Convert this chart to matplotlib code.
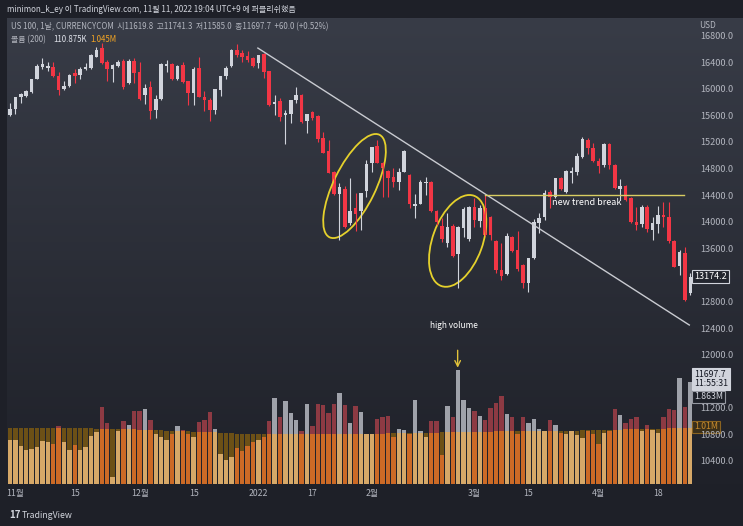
import numpy as np
import matplotlib
matplotlib.use("Agg")
import matplotlib.pyplot as plt
import matplotlib.transforms as mtransforms
from matplotlib.patches import Rectangle, Ellipse
from matplotlib.colors import LinearSegmentedColormap

plt.rcParams['font.family'] = ['Noto Sans CJK KR', 'DejaVu Sans']

# daily candles, 29 Oct 2021 .. 26 Apr 2022 (US 100 CFD)
opens = [
    15600, 15690, 15870, 15890, 15950, 16140, 16320, 16310, 16330, 16190,
    15990, 16040, 16230, 16200, 16290, 16310, 16480, 16610, 16400, 16300,
    16340, 16420, 16090, 16420, 16250, 15900, 16020, 15680, 15840, 16340,
    16370, 16140, 16350, 16110, 15930, 16310, 15870, 15830, 15680, 15980,
    16190, 16340, 16580, 16540, 16490, 16460, 16390, 16520, 16260, 15770,
    15810, 15600, 15620, 15830, 15900, 15510, 15650, 15590, 15260, 15060,
    14740, 14420, 14490, 13980, 14200, 14160, 14460, 14880, 15140, 14880,
    14760, 14670, 14600, 14750, 14700, 14240, 14270, 14580, 14600, 14160,
    13930, 13680, 13930, 13510, 13900, 13740, 14220, 14010, 14200, 14070,
    13710, 13270, 13210, 13770, 13570, 13350, 13080, 13450, 13980, 14070,
    14440, 14370, 14660, 14440, 14730, 14750, 14970, 15230, 15110, 14910,
    14850, 15170, 14850, 14490, 14540, 14360, 13990, 13960, 14220, 13870,
    13960, 14100, 14070, 13710, 13330, 13530, 12930]
highs = [
    15780, 15880, 15930, 15980, 16150, 16370, 16460, 16400, 16400, 16250,
    16110, 16220, 16290, 16320, 16380, 16520, 16620, 16690, 16430, 16370,
    16430, 16440, 16440, 16460, 16400, 16070, 16110, 15900, 16380, 16430,
    16390, 16350, 16400, 16120, 16320, 16480, 15960, 15860, 16000, 16190,
    16340, 16590, 16670, 16580, 16560, 16470, 16510, 16530, 16270, 15900,
    15860, 15680, 15830, 16020, 15920, 15620, 15670, 15600, 15350, 15230,
    14760, 14580, 14540, 14660, 14430, 14430, 14930, 15120, 15230, 14900,
    14770, 14810, 14810, 15070, 14710, 14420, 14630, 14670, 14610, 14170,
    14050, 14130, 13970, 13930, 14220, 14230, 14360, 14250, 14400, 14080,
    13720, 13680, 13830, 13790, 13860, 13360, 13460, 14040, 14130, 14480,
    14480, 14660, 14670, 14780, 14820, 15030, 15270, 15260, 15180, 14960,
    15180, 15180, 14860, 14640, 14550, 14370, 14220, 14250, 14250, 14070,
    14230, 14300, 14290, 13720, 13580, 13620, 13230]
lows = [
    15590, 15620, 15780, 15870, 15940, 16140, 16290, 16260, 16170, 15900,
    15980, 16030, 16080, 16140, 16280, 16300, 16470, 16370, 16110, 16100,
    16330, 16000, 16070, 16090, 15830, 15770, 15540, 15560, 15830, 16250,
    16130, 16130, 16090, 15750, 15750, 15870, 15660, 15510, 15620, 15890,
    16140, 16330, 16470, 16400, 16400, 16320, 16310, 16160, 15740, 15600,
    15510, 15170, 15480, 15780, 15490, 15330, 15530, 15200, 15030, 14730,
    14400, 13720, 13900, 13950, 13860, 13870, 14370, 14750, 14880, 14370,
    14370, 14520, 14480, 14740, 14210, 14060, 14260, 14400, 14140, 13950,
    13690, 13620, 13470, 13000, 13770, 13710, 13920, 13920, 13790, 13720,
    13230, 13120, 13200, 13540, 13260, 13000, 12940, 13440, 13830, 14020,
    14200, 14360, 14470, 14430, 14580, 14700, 14960, 15020, 14900, 14730,
    14820, 14790, 14490, 14330, 14310, 13980, 13870, 13920, 13840, 13720,
    13830, 13920, 13680, 13310, 13200, 12800, 12900]
closes = [
    15690, 15870, 15920, 15960, 16140, 16340, 16370, 16340, 16190, 15980,
    16040, 16200, 16190, 16290, 16320, 16500, 16580, 16390, 16300, 16360,
    16400, 16030, 16410, 16240, 15840, 16010, 15660, 15840, 16370, 16370,
    16150, 16340, 16100, 15930, 16290, 15870, 15830, 15680, 15990, 16190,
    16310, 16580, 16510, 16480, 16430, 16340, 16510, 16250, 15750, 15800,
    15570, 15630, 15830, 15900, 15500, 15620, 15560, 15240, 15030, 14730,
    14420, 14520, 13920, 14160, 14110, 14430, 14870, 15120, 14880, 14810,
    14660, 14600, 14750, 15060, 14260, 14270, 14600, 14600, 14160, 13990,
    13740, 13920, 13480, 13920, 14190, 14220, 14020, 14200, 13800, 13800,
    13270, 13180, 13780, 13560, 13290, 13080, 13450, 13990, 14050, 14430,
    14370, 14650, 14490, 14760, 14760, 14990, 15240, 15110, 14910, 14840,
    15170, 14850, 14510, 14540, 14330, 13990, 13950, 14220, 13890, 13980,
    14100, 14070, 13710, 13320, 13540, 12820, 13174.2]

# volume and its 200-period average, in millions
volumes = [
    0.79, 0.79, 0.69, 0.61, 0.63, 0.67, 0.77, 0.76, 0.72, 1.05,
    0.76, 0.62, 0.70, 0.61, 0.67, 0.86, 0.93, 1.39, 1.10, 0.13,
    0.95, 1.13, 1.07, 1.31, 1.31, 1.35, 1.15, 0.90, 0.85, 0.80,
    0.90, 1.05, 0.98, 0.90, 0.85, 1.11, 1.16, 1.29, 0.99, 0.55,
    0.43, 0.48, 0.65, 0.60, 0.68, 0.75, 0.80, 0.85, 1.14, 1.55,
    1.20, 1.50, 1.28, 1.16, 0.95, 1.44, 1.05, 1.44, 1.43, 1.28,
    1.44, 1.64, 1.43, 1.10, 1.41, 1.30, 0.90, 0.90, 1.18, 1.20,
    1.22, 0.85, 1.00, 0.98, 0.90, 1.52, 0.95, 0.85, 1.14, 1.14,
    0.52, 1.41, 1.21, 2.05, 1.52, 1.37, 1.31, 1.23, 1.16, 1.37,
    1.46, 1.59, 1.26, 1.21, 0.90, 1.21, 1.10, 1.18, 1.00, 0.95,
    1.16, 1.07, 0.92, 0.90, 0.95, 0.88, 0.83, 0.95, 0.90, 0.72,
    0.92, 0.95, 1.35, 1.25, 1.10, 1.18, 1.21, 0.95, 1.07, 0.97,
    0.92, 1.20, 1.35, 1.33, 1.91, 1.39, 1.84]
vol_ma = [
    1.01, 1.01, 1.01, 1.01, 1.01, 1.01, 1.01, 1.01, 1.01, 1.01,
    1.01, 1.01, 1.01, 1.01, 1.01, 1.01, 1.00, 1.00, 1.00, 1.00,
    1.00, 1.00, 0.99, 0.99, 0.98, 0.98, 0.98, 0.97, 0.97, 0.96,
    0.96, 0.96, 0.95, 0.95, 0.94, 0.94, 0.94, 0.93, 0.93, 0.92,
    0.92, 0.92, 0.91, 0.91, 0.91, 0.91, 0.91, 0.91, 0.91, 0.91,
    0.91, 0.91, 0.91, 0.91, 0.91, 0.91, 0.91, 0.91, 0.91, 0.91,
    0.91, 0.91, 0.91, 0.91, 0.91, 0.91, 0.91, 0.91, 0.91, 0.91,
    0.92, 0.92, 0.92, 0.92, 0.92, 0.92, 0.92, 0.92, 0.92, 0.92,
    0.93, 0.93, 0.93, 0.93, 0.93, 0.94, 0.94, 0.94, 0.94, 0.94,
    0.95, 0.95, 0.95, 0.95, 0.95, 0.95, 0.95, 0.95, 0.95, 0.95,
    0.96, 0.96, 0.96, 0.96, 0.96, 0.96, 0.97, 0.97, 0.97, 0.97,
    0.98, 0.98, 0.98, 0.98, 0.99, 0.99, 0.99, 0.99, 1.00, 1.00,
    1.00, 1.00, 1.01, 1.01, 1.01, 1.01, 1.01]

tick_pos = [1, 12, 24, 34, 46, 56, 67, 86, 96, 109, 120]
tick_labels = ['11월', '15', '12월', '15', '2022', '17', '2월', '3월', '15', '4월', '18']
price_ticks = [10400, 10800, 11200, 12000, 12400, 12800, 13600, 14000,
               14400, 14800, 15200, 15600, 16000, 16400, 16800]

W, H = 743, 526
TXT = '#b2b5be'
UP, DOWN = '#d1d4dc', '#f23645'

fig = plt.figure(figsize=(W / 100, H / 100), dpi=100)
fig.patch.set_facecolor('#1e2028')

# background in pixel coordinates
bg = fig.add_axes([0, 0, 1, 1], zorder=0)
bg.set_xlim(0, W)
bg.set_ylim(H, 0)
bg.axis('off')
bg.add_patch(Rectangle((0, 0), W, H, color='#1e2028'))
cmap = LinearSegmentedColormap.from_list('pane', ['#383c47', '#1f2129'])
bg.imshow(np.linspace(0, 1, 256).reshape(-1, 1), extent=(7, W, 484, 18),
          cmap=cmap, aspect='auto', zorder=1)

rect = [7 / W, (H - 484) / H, 685 / W, 464 / H]
n = len(closes)
x = np.arange(n)
xlim = (-0.56, 126.3)

o = np.array(opens, dtype=float)
c = np.array(closes, dtype=float)
hi = np.array(highs, dtype=float)
lo = np.array(lows, dtype=float)
up = c >= o

# volume pane (overlay at the bottom)
axv = fig.add_axes(rect, zorder=1)
axv.patch.set_visible(False)
axv.axis('off')
axv.set_xlim(*xlim)
axv.set_ylim(0, 8.37)
vol = np.array(volumes)
ma = np.array(vol_ma)
over = vol > ma
axv.bar(x, np.minimum(vol, ma), width=0.84, color=np.where(up, '#d6a868', '#cc6a26'))
axv.bar(x[over], (vol - ma)[over], bottom=ma[over], width=0.84,
        color=np.where(up[over], '#9fa2aa', '#8d3a43'))
axv.bar(x[~over], (ma - vol)[~over], bottom=vol[~over], width=0.84, color='#6c5016')

# price pane
ax = fig.add_axes(rect, zorder=2)
ax.patch.set_visible(False)
for s in ax.spines.values():
    s.set_visible(False)
ax.set_xlim(*xlim)
ax.set_ylim(10054, 17032)

col = np.where(up, UP, DOWN)
ax.vlines(x, lo, hi, colors=col, lw=0.8)
ax.bar(x, np.maximum(np.abs(c - o), 12), bottom=np.minimum(o, c), width=0.66, color=col)

ax.yaxis.tick_right()
ax.set_yticks(price_ticks, [f'{v:.1f}' for v in price_ticks])
ax.set_xticks(tick_pos, tick_labels)
ax.tick_params(axis='both', length=0, colors=TXT, labelsize=6.3)
ax.tick_params(axis='y', pad=6, labelsize=6.6)
ax.tick_params(axis='x', pad=3.5)

# drawings
ax.plot([45.9, 125.8], [16610, 12445], color='#c9cbd1', lw=1.0)
ax.plot([87.9, 124.9], [14400, 14400], color='#d8cd62', lw=1.0)
ax.text(100.3, 14280, 'new trend break', color='white', fontsize=6.5, va='center', ha='left')
for cx, cy, w, h, ang in [(63.8, 14535, 1.14, 0.42, 64), (82.9, 13710, 0.96, 0.50, 70)]:
    tr = fig.dpi_scale_trans + mtransforms.ScaledTranslation(cx, cy, ax.transData)
    ax.add_patch(Ellipse((0, 0), w, h, angle=ang, transform=tr, fill=False,
                         ec='#e5d12c', lw=1.3, clip_on=False))
ax.text(82.3, 12445, 'high volume', color='white', fontsize=6, ha='center', va='center')
ax.annotate('', xy=(82.9, 11761), xytext=(82.9, 12107),
            arrowprops=dict(arrowstyle='->', color='#e2c23a', lw=1.0))

# price scale labels
bt = mtransforms.blended_transform_factory(ax.transAxes, ax.transData)
ax.text(1.003, 13174.2, '13174.2', transform=bt, fontsize=6.5, color='white', va='center',
        ha='left', bbox=dict(boxstyle='square,pad=0.25', fc='#23262f', ec='#d1d4dc', lw=0.8))
ax.text(1.003, 11775, '11697.7\n11:55:31', transform=bt, fontsize=6.3, color='#131722',
        va='top', ha='left', linespacing=1.05,
        bbox=dict(boxstyle='square,pad=0.2', fc='#d1d4dc', ec='#d1d4dc', lw=0.8))
bv = mtransforms.blended_transform_factory(axv.transAxes, axv.transData)
axv.text(1.003, 1.57, '1.863M', transform=bv, fontsize=6.3, color='#d1d4dc', va='center',
         ha='left', bbox=dict(boxstyle='square,pad=0.2', fc='#1e2129', ec='#9598a1', lw=0.8))
axv.text(1.003, 1.03, '1.01M', transform=bv, fontsize=6.3, color='#c98b2c', va='center',
         ha='left', bbox=dict(boxstyle='square,pad=0.2', fc='#3a2f1a', ec='#8a6320', lw=0.8))

# header and legend
bg.text(7, 10, 'minimon_k_ey 이 TradingView.com, 11월 11, 2022 19:04 UTC+9 에 퍼블리쉬했음',
        color='#d1d4dc', fontsize=5.8, va='center')
bg.text(11, 27, 'US 100, 1날, CURRENCYCOM  시11619.8  고11741.3  저11585.0  종11697.7  +60.0 (+0.52%)',
        color=TXT, fontsize=5.7, va='center')
bg.text(11, 40, '볼륨 (200)', color=TXT, fontsize=5.7, va='center')
bg.text(53, 40, '110.875K', color='#e0e3eb', fontsize=5.7, va='center')
bg.text(90, 40, '1.045M', color='#f5a623', fontsize=5.7, va='center')
bg.text(699, 26, 'USD', color=TXT, fontsize=6, va='center')
bg.text(9, 515, '17', color='#d1d4dc', fontsize=7, weight='bold', va='center')
bg.text(22, 515, 'TradingView', color='#d1d4dc', fontsize=6.3, va='center')

fig.savefig('out.png', dpi=100, facecolor=fig.get_facecolor())
